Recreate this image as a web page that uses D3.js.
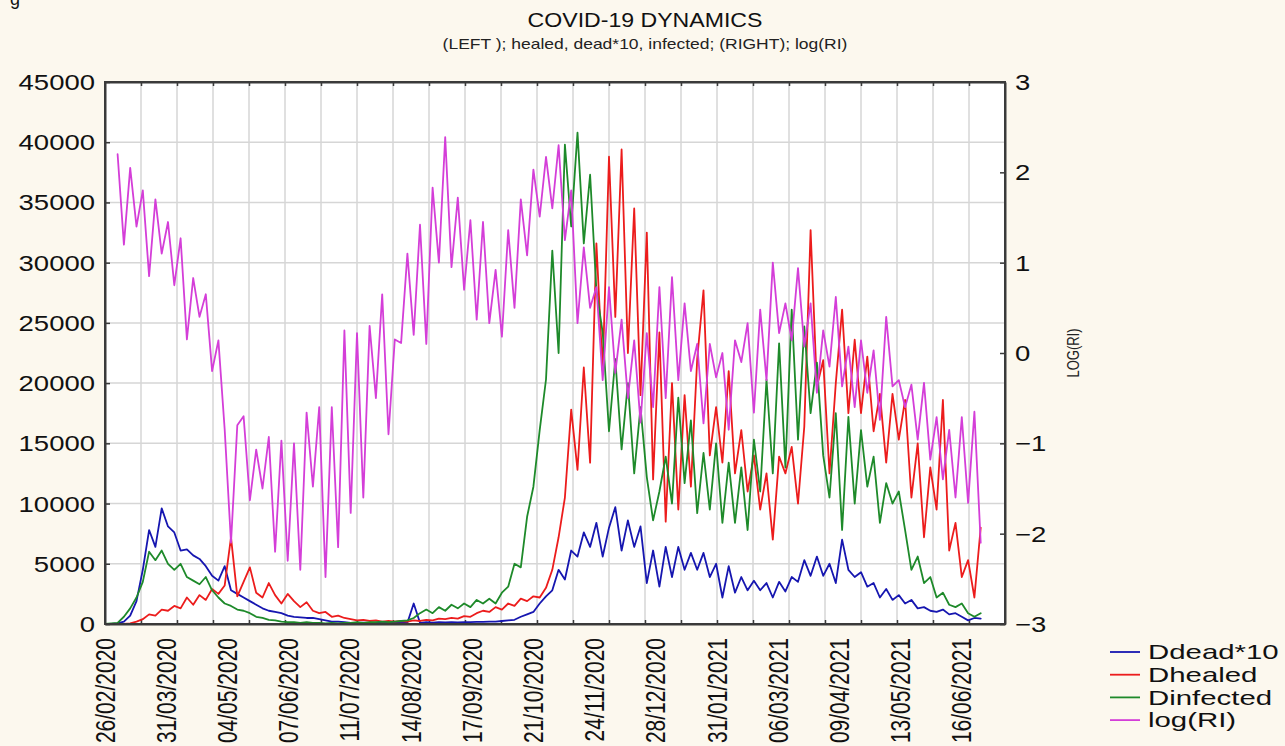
<!DOCTYPE html>
<html>
<head>
<meta charset="utf-8">
<script src="https://cdn.jsdelivr.net/npm/d3@7/dist/d3.min.js"></script>
<style>
  html, body { margin: 0; padding: 0; background: #fcf8ee; }
  svg { display: block; font-family: "Liberation Sans", Arial, sans-serif; }
</style>
</head>
<body>
<svg id="chart" width="1285" height="746"></svg>
<script>
// ---- data -------------------------------------------------------------
const chartTitle = "COVID-19 DYNAMICS";
const chartSubtitle = "(LEFT ); healed, dead*10, infected; (RIGHT); log(RI)";
const startDate = "26/02/2020";
const stepDays = 3.5;            // one reading every half week
const dateLabels = ["26/02/2020","31/03/2020","04/05/2020","07/06/2020","11/07/2020",
  "14/08/2020","17/09/2020","21/10/2020","24/11/2020","28/12/2020","31/01/2021",
  "06/03/2021","09/04/2021","13/05/2021","16/06/2021"];
const leftTicks = [0,5000,10000,15000,20000,25000,30000,35000,40000,45000];
const rightTicks = [-3,-2,-1,0,1,2,3];
const seriesNames = ["Ddead*10","Dhealed","Dinfected","log(RI)"];
const seriesColors = ["#1616b0","#ec1c1c","#1e8a2a","#d43ed8"];

// daily deaths x10
const dead10 = [0,0,50,200,700,1900,4500,7800,6400,9600,
  8100,7600,6100,6200,5700,5400,4800,4000,3600,4800,
  2800,2500,2200,1900,1600,1300,1100,1000,900,700,
  600,550,500,500,400,300,200,200,150,100,
  100,120,100,120,100,150,100,120,100,1700,
  100,150,120,150,130,150,140,160,150,180,
  170,200,200,250,300,350,600,800,1000,1700,
  2300,2800,4500,3700,6100,5600,7600,6400,8400,5600,
  8000,9700,6100,8600,6400,8100,3400,6100,3100,6400,
  3900,6400,4500,5900,4500,5900,3900,5000,2200,4800,
  2600,3900,2800,3600,2800,3400,2200,3500,2700,3900,
  3500,5300,4000,5600,4000,5000,3400,7000,4500,3900,
  4300,3100,3400,2200,2900,2000,2400,1700,2000,1300,
  1400,1100,1000,1200,800,900,600,300,500,450];

// daily healed
const healed = [0,0,0,0,50,200,400,800,700,1200,
  1100,1500,1300,2200,1600,2400,2000,2900,2500,3200,
  7200,2300,3500,4700,2600,2200,3400,2400,1700,2500,
  1900,1400,1800,1100,900,1000,600,700,500,400,
  300,350,250,300,200,250,200,250,200,300,
  250,350,300,450,400,500,450,650,600,900,
  1100,1000,1400,1200,1700,1500,2100,1900,2300,2200,
  3000,4500,7200,10500,17800,12800,21300,13400,31600,21000,
  38800,25500,39400,22500,34500,19000,32500,12000,24200,8500,
  20000,9500,19000,11400,22000,27700,14000,18000,13400,21000,
  12500,16100,11000,14000,9500,12500,7000,13900,12500,14700,
  10000,16400,32700,19700,21900,12500,20000,26100,17500,23600,
  17500,22200,16000,19100,13400,19100,15300,18600,10500,15000,
  7200,13000,9500,18600,6100,8400,3900,5300,2200,8000];

// daily infected
const infected = [0,50,100,600,1300,2200,3500,6000,5300,6100,
  5000,4500,5000,3900,3600,3300,3900,2800,2200,1700,
  1500,1200,1100,900,600,500,350,300,200,150,
  150,100,150,100,100,50,100,50,100,100,
  150,100,150,150,200,150,200,250,300,500,
  900,1200,900,1400,1100,1600,1300,1700,1400,2000,
  1700,2100,1700,2600,3100,5000,4700,8900,11400,16100,
  20300,31000,22500,39800,33000,40800,31600,37300,27700,24200,
  16000,22000,14500,20000,12500,18000,12200,8600,11000,13900,
  10000,18800,11700,16900,9200,14200,9500,15000,8400,13400,
  8400,13000,7800,15300,11000,20300,12500,23300,13000,26100,
  15300,24700,17500,21700,14000,10500,17500,7800,17200,10000,
  16100,11400,13900,8400,11700,10000,11000,7800,4500,5600,
  3400,3900,2200,2600,1600,1400,1700,900,600,900];

// log of the reproduction index (right axis)
const logRI = [null,null,2.2,1.2,2.05,1.4,1.8,0.85,1.7,1.1,
  1.45,0.75,1.27,0.15,0.83,0.4,0.65,-0.2,0.14,-0.85,
  -2.1,-0.8,-0.7,-1.63,-1.07,-1.5,-0.93,-2.2,-0.97,-2.3,
  -1.0,-2.4,-0.66,-1.48,-0.6,-2.48,-0.6,-2.15,0.25,-1.77,
  0.22,-1.6,0.3,-0.5,0.65,-0.9,0.15,0.11,1.1,0.2,
  1.42,0.1,1.83,1.0,2.39,0.95,1.72,0.7,1.47,0.37,
  1.45,0.33,0.92,0.18,1.36,0.5,1.7,1.08,2.03,1.51,
  2.17,1.6,2.3,1.25,1.8,0.33,1.17,0.5,0.73,-0.3,
  0.73,-0.22,0.37,-0.5,0.14,-0.77,0.22,-0.6,0.73,-0.5,
  0.84,-0.3,0.55,-0.2,0.1,-0.78,0.1,-0.27,0.0,-0.85,
  0.14,-0.1,0.33,-0.66,0.48,-0.3,1.0,0.22,0.55,0.14,
  0.94,0.07,0.55,-0.44,0.25,-0.15,0.62,-0.37,0.07,-0.6,
  0.14,-0.44,0.03,-0.74,0.4,-0.37,-0.3,-0.6,-0.35,-0.96,
  -0.33,-1.18,-0.71,-1.4,-0.85,-1.6,-0.71,-1.66,-0.65,-2.1];

// ---- layout -----------------------------------------------------------
const W = 1285, H = 746;
const plot = { left: 105, right: 1005, top: 82, bottom: 624 };
const svg = d3.select("#chart");

svg.append("rect").attr("width", W).attr("height", H).attr("fill", "#fcf8ee");

const parse = d3.timeParse("%d/%m/%Y");
const t0 = parse(startDate);
const dayOf = s => d3.timeDay.count(t0, parse(s));

const x = d3.scaleLinear().domain([0, 500]).range([plot.left, plot.right]);
const yL = d3.scaleLinear().domain([0, 45000]).range([plot.bottom, plot.top]);
const yR = d3.scaleLinear().domain([-3, 3]).range([plot.bottom, plot.top]);

// text drawn with a wide letter shape (horizontal stretch sx)
function wideText(g, px, py, str, size, anchor, sx, rotate) {
  return g.append("text")
    .attr("transform", `translate(${px},${py}) scale(${sx},1)` + (rotate ? " rotate(-90)" : ""))
    .attr("text-anchor", anchor).attr("dominant-baseline", "central")
    .attr("font-size", size).attr("fill", "#111").text(str);
}

// plot background
svg.append("rect")
  .attr("x", plot.left).attr("y", plot.top)
  .attr("width", plot.right - plot.left).attr("height", plot.bottom - plot.top)
  .attr("fill", "#ffffff");

// grid
const gridDays = d3.range(20, 500, 20);
svg.append("g").selectAll("line").data(gridDays).join("line")
  .attr("x1", d => x(d)).attr("x2", d => x(d))
  .attr("y1", plot.top).attr("y2", plot.bottom)
  .attr("stroke", "#d6d6d6").attr("stroke-width", 1.5);
svg.append("g").selectAll("line").data(leftTicks.slice(1, -1)).join("line")
  .attr("x1", plot.left).attr("x2", plot.right)
  .attr("y1", d => yL(d)).attr("y2", d => yL(d))
  .attr("stroke", "#d6d6d6").attr("stroke-width", 1.5);

// axes with inward ticks (labels drawn separately)
const axisColor = "#3a3a3a";
const gLeft = svg.append("g").attr("transform", `translate(${plot.left},0)`)
  .call(d3.axisLeft(yL).tickValues(leftTicks).tickSizeInner(-5).tickSizeOuter(0).tickFormat(""));
const gRight = svg.append("g").attr("transform", `translate(${plot.right},0)`)
  .call(d3.axisRight(yR).tickValues(rightTicks).tickSizeInner(-5).tickSizeOuter(0).tickFormat(""));
const gTop = svg.append("g").attr("transform", `translate(0,${plot.top})`)
  .call(d3.axisTop(x).tickValues(gridDays).tickSizeInner(-4).tickSizeOuter(0).tickFormat(""));
const gBottom = svg.append("g").attr("transform", `translate(0,${plot.bottom})`)
  .call(d3.axisBottom(x).tickValues(gridDays).tickSizeInner(-4).tickSizeOuter(0).tickFormat(""));
[gLeft, gRight, gTop, gBottom].forEach(g => {
  g.select(".domain").attr("stroke", axisColor).attr("stroke-width", 2);
  g.selectAll(".tick line").attr("stroke", axisColor).attr("stroke-width", 1.5);
});

// tick labels
const gLabels = svg.append("g");
leftTicks.forEach(v => wideText(gLabels, plot.left - 10, yL(v), d3.format("d")(v), 22, "end", 1.25));
rightTicks.forEach(v => wideText(gLabels, plot.right + 10, yR(v), d3.format("d")(v), 22, "start", 1.25));
dateLabels.forEach(s => wideText(gLabels, x(dayOf(s)), plot.bottom + 14, s, 21, "end", 1.3, true));

// right axis title
wideText(svg, 1074, yR(0), "LOG(RI)", 13, "middle", 1.2, true).attr("fill", "#222");

// titles
wideText(svg, 645, 20, chartTitle, 21, "middle", 1.1);
wideText(svg, 645, 44, chartSubtitle, 14, "middle", 1.25).attr("fill", "#222");
svg.append("text").attr("x", 10).attr("y", 5).attr("font-size", 18).attr("fill", "#111").text("g");

// ---- series -----------------------------------------------------------
const dayAt = i => i * stepDays;
const leftLine = d3.line().x((d, i) => x(dayAt(i))).y(d => yL(d));
const rightLine = d3.line().defined(d => d !== null).x((d, i) => x(dayAt(i))).y(d => yR(d));

const seriesData = [dead10, healed, infected];
const gLines = svg.append("g").attr("fill", "none")
  .attr("stroke-linejoin", "round").attr("stroke-linecap", "round");
seriesData.forEach((arr, k) => {
  gLines.append("path").datum(arr)
    .attr("d", leftLine)
    .attr("stroke", seriesColors[k]).attr("stroke-width", 1.8);
});
gLines.append("path").datum(logRI)
  .attr("d", rightLine)
  .attr("stroke", seriesColors[3]).attr("stroke-width", 1.8);

// frame on top of the lines
svg.append("rect")
  .attr("x", plot.left).attr("y", plot.top)
  .attr("width", plot.right - plot.left).attr("height", plot.bottom - plot.top)
  .attr("fill", "none").attr("stroke", axisColor).attr("stroke-width", 2);

// ---- legend -----------------------------------------------------------
const legend = svg.append("g");
seriesNames.forEach((name, i) => {
  const ly = 652 + i * 22.7;
  legend.append("line").attr("x1", 1110).attr("x2", 1140).attr("y1", ly).attr("y2", ly)
    .attr("stroke", seriesColors[i]).attr("stroke-width", 1.8);
  wideText(legend, 1148, ly, name, 21, "start", 1.4);
});
</script>
</body>
</html>
